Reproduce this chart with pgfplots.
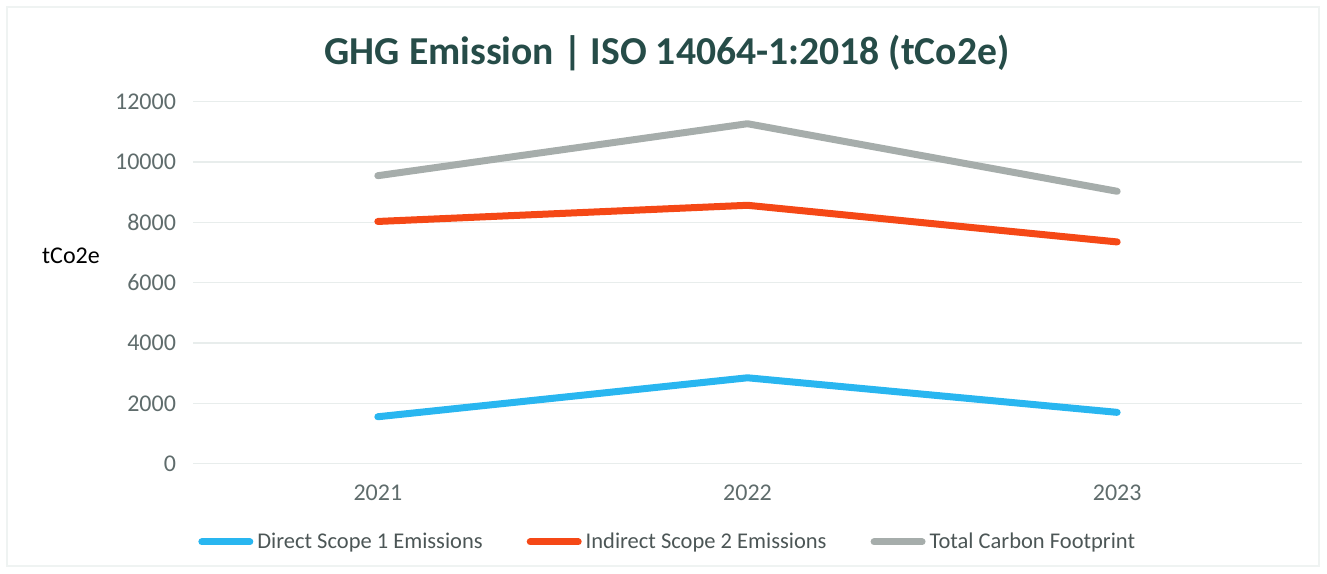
\documentclass[border=0pt]{standalone}
\usepackage{pgfplots}
\pgfplotsset{compat=1.18}
\usepackage{fontspec}
\setmainfont{Carlito}
\definecolor{titlec}{RGB}{38,76,72}
\definecolor{tickc}{RGB}{95,108,108}
\definecolor{gridc}{RGB}{232,237,236}
\definecolor{s1}{RGB}{41,182,240}
\definecolor{s2}{RGB}{245,72,22}
\definecolor{s3}{RGB}{166,173,171}
\begin{document}
\begin{tikzpicture}
\path[use as bounding box] (0pt,0pt) rectangle (663.5pt,286.5pt);
\draw[gridc!70,line width=0.6pt] (3.5pt,3.5pt) rectangle (659.5pt,283pt);
\node[font=\fontsize{19.8}{23}\selectfont\bfseries,text=titlec] at (333.5pt,260pt) {GHG Emission | ISO 14064-1:2018 (tCo2e)};
\node[font=\fontsize{12}{14}\selectfont,text=black] at (35.5pt,158.5pt) {tCo2e};
\begin{axis}[
  at={(96.5pt,54.65pt)}, anchor=south west,
  scale only axis, width=554.5pt, height=181pt,
  xmin=0, xmax=3, ymin=0, ymax=12000,
  xtick={0.5,1.5,2.5}, xticklabels={2021,2022,2023},
  ytick={0,2000,...,12000},
  scaled y ticks=false,
  axis line style={draw=none},
  axis x line*=bottom,
  x axis line style={draw=gridc,line width=0.8pt},
  major tick length=0pt,
  ymajorgrids, grid style={gridc,line width=0.8pt},
  tick label style={font=\fontsize{12}{14}\selectfont,text=tickc},
  /pgf/number format/assume math mode=true,
  /pgf/number format/1000 sep={},
  yticklabel style={xshift=-5pt},
  xticklabel style={yshift=-7pt},
  legend columns=3,
  legend style={at={(0.429,-0.216)},anchor=center,draw=none,fill=none,
    font=\fontsize{11.25}{13}\selectfont,text=tickc!80!black,
    /tikz/every even column/.append style={column sep=20pt},
    inner sep=0pt},
  legend image code/.code={\draw[#1,line width=3.5pt,line cap=round] (0pt,0pt) -- (24pt,0pt);},
  legend cell align=left,
]
\addplot[s1,line width=3.5pt,line cap=round,line join=round] coordinates {(0.5,1556) (1.5,2848) (2.5,1702)};
\addlegendentry{Direct Scope 1 Emissions}
\addplot[s2,line width=3.5pt,line cap=round,line join=round] coordinates {(0.5,8030) (1.5,8566) (2.5,7351)};
\addlegendentry{Indirect Scope 2 Emissions}
\addplot[s3,line width=3.5pt,line cap=round,line join=round] coordinates {(0.5,9547) (1.5,11270) (2.5,9030)};
\addlegendentry{Total Carbon Footprint}
\end{axis}
\end{tikzpicture}
\end{document}
